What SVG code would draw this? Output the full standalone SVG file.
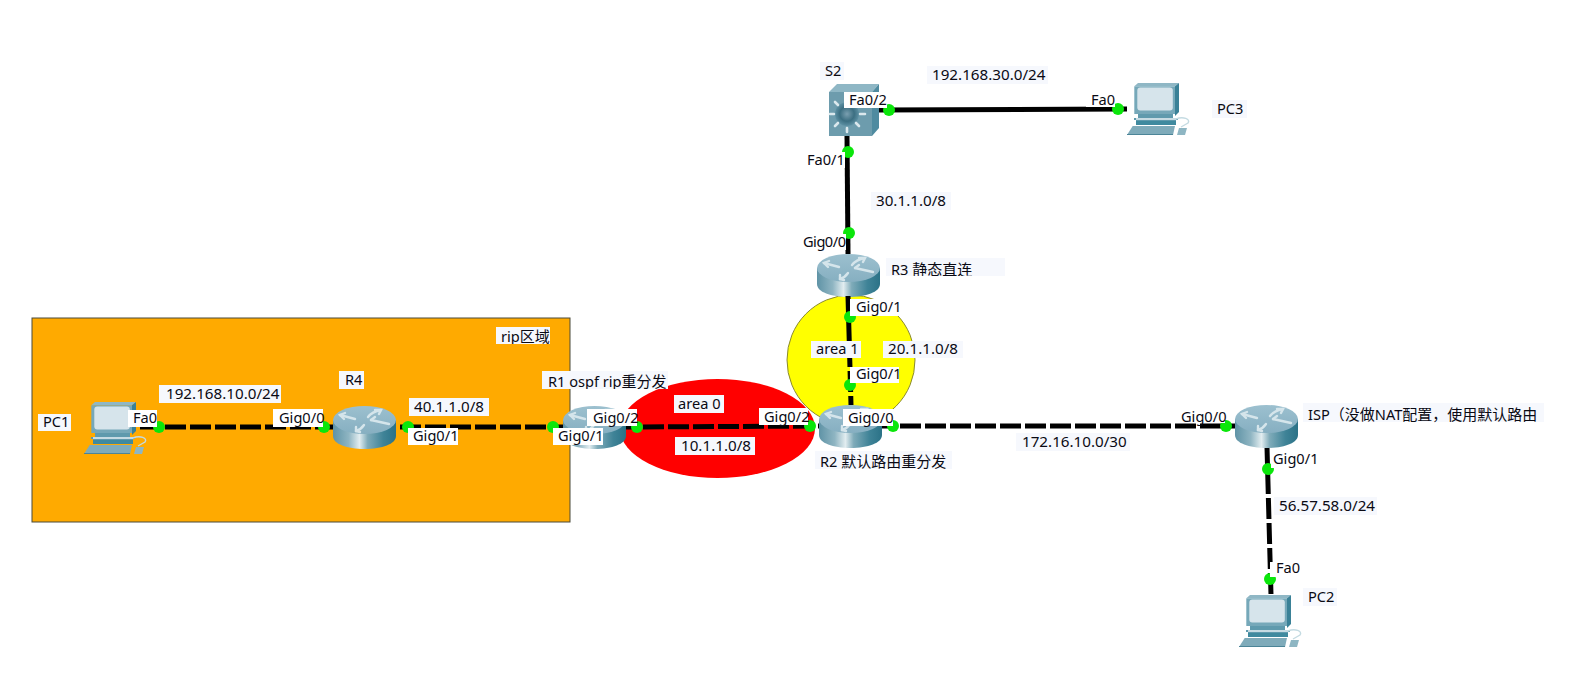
<svg xmlns="http://www.w3.org/2000/svg" width="1576" height="686" viewBox="0 0 1576 686">
<style>
text{font-family:"Noto Sans","Noto Sans CJK SC",sans-serif;font-size:14.6px;fill:#0a0a14}
.ip{font-size:15.2px}
.b{fill:#f6f8fd}.w{fill:#fff}
.solid{stroke:#000;stroke-width:5;fill:none}
.dash{stroke:#000;stroke-width:5;fill:none;stroke-dasharray:21 4}
.dot{fill:#0be60b}
</style>
<defs>
<linearGradient id="rb" x1="0" x2="1" y1="0" y2="0"><stop offset="0" stop-color="#5f93a6"/><stop offset=".25" stop-color="#8fb5c2"/><stop offset=".42" stop-color="#e2edf0"/><stop offset=".55" stop-color="#7fabb9"/><stop offset=".8" stop-color="#3f8397"/><stop offset="1" stop-color="#2b7287"/></linearGradient>
<linearGradient id="rt" x1="0" x2="0" y1="0" y2="1"><stop offset="0" stop-color="#9cc0cf"/><stop offset="1" stop-color="#86afc1"/></linearGradient>
<radialGradient id="hub"><stop offset="0" stop-color="#7a9fb0"/><stop offset=".6" stop-color="#3c6f82"/><stop offset="1" stop-color="#5d90a3"/></radialGradient>
<clipPath id="c1"><rect x="496" y="327" width="54" height="17"/></clipPath>
<clipPath id="c2"><rect x="542" y="371" width="126" height="18"/></clipPath>
<clipPath id="c3"><rect x="815" y="451" width="137" height="18"/></clipPath>
<clipPath id="c4"><rect x="886" y="258" width="119" height="18"/></clipPath>
<symbol id="router" viewBox="0 0 63 43" width="63" height="43" overflow="visible">
<path d="M0 14V30C0 38 14 43 31.500 43S63 38 63 30V14Z" fill="url(#rb)"/>
<ellipse cx="31.500" cy="14" rx="31.500" ry="14" fill="url(#rt)"/>
<g fill="none" stroke="#d5e5eb" stroke-width="2.400" stroke-linecap="round">
<path d="M7 9L22 13"/><path d="M11 13L7 9L12 7"/>
<path d="M35 11C38 7 43 5 48 4"/><path d="M42 4L48 4L46 8"/>
<path d="M38 14L56 18"/><path d="M38 14L42 11"/>
<path d="M31 19C29 22 26 24 23 25"/><path d="M23 21L23 25L27 26"/>
</g>
</symbol>
<symbol id="pc" viewBox="0 0 63 52" width="63" height="52" overflow="visible">
<path d="M7.300 3.300L11 0H52L48 3.300Z" fill="#8fb7c5"/>
<path d="M48 3.300L52 0V29L48 33Z" fill="#3a8197"/>
<rect x="7.300" y="3.300" width="40.700" height="27.700" fill="#76a8b9"/>
<rect x="10.300" y="4.500" width="35.500" height="23" rx="3" fill="#d6e4eb"/>
<path d="M11 31H46V35H51V37H49V42H9V37H7V35H11Z" fill="#5f9aad"/>
<path d="M9 35H49V37H9Z" fill="#c6dbe3"/>
<path d="M9 38H49V42H9Z" fill="#3f8a9f"/>
<path d="M5.700 43H48L46 52H0Z" fill="#7fabba"/>
<path d="M0 51H46V52H0Z" fill="#4c8598"/>
<path d="M49 36C56 33 64 36 61 40L54 44" fill="none" stroke="#c4dbe2" stroke-width="1.400"/>
<path d="M52 45H60L58 52H50Z" fill="#8eb6c3"/>
</symbol>
<symbol id="switch" viewBox="0 0 50 52" width="50" height="52" overflow="visible">
<path d="M0 8L8 0H50L43 8Z" fill="#8fb7c5"/>
<path d="M43 8L50 0V44L43 52Z" fill="#4f8ba0"/>
<rect y="8" width="43" height="44" fill="#6d9cad"/>
<circle cx="18" cy="30" r="12" fill="url(#hub)"/>
<g stroke="#dbe8ed" stroke-width="2.600" stroke-linecap="round"><path d="M18 13V16M18 44V48M1 30H5M31 30H36M6 18L9 21M30 18L27 21M6 42L9 39M30 42L27 39"/></g>
</symbol>
</defs>

<rect width="1576" height="686" fill="#fff"/>

<g id="rip-area"><rect x="32" y="318" width="538" height="204" fill="#ffaa00" stroke="#4a4a3a" stroke-width="1"/></g>
<g id="area-1"><ellipse cx="851" cy="360" rx="64" ry="65" fill="#ffff00" stroke="#8a8a30" stroke-width="1"/></g>
<g id="area-0"><ellipse cx="717.500" cy="428.500" rx="97.500" ry="49.500" fill="#ff0000"/></g>

<g id="PC1"><use href="#pc" x="84" y="402"/><rect class="b" x="38" y="414" width="33" height="17"/><text x="43" y="427">PC1</text></g>
<g id="R4"><use href="#router" x="333" y="406"/><rect class="b" x="339" y="371" width="25" height="18"/><text x="345" y="385">R4</text></g>
<g id="R1"><use href="#router" x="563" y="406"/><rect class="b" x="542" y="371" width="126" height="18"/><text x="548" y="387" clip-path="url(#c2)">R1 ospf rip<tspan font-size="15">重分发</tspan></text></g>
<g id="R2"><use href="#router" x="819" y="405"/><rect class="b" x="815" y="451" width="137" height="18"/><text x="820" y="467" clip-path="url(#c3)">R2 <tspan font-size="15">默认路由重分发</tspan></text></g>
<g id="R3"><use href="#router" x="817" y="254"/><rect class="b" x="886" y="258" width="119" height="18"/><text x="891" y="275" clip-path="url(#c4)">R3 <tspan font-size="15">静态直连</tspan></text></g>
<g id="ISP"><use href="#router" x="1235" y="405"/><rect class="b" x="1303" y="403" width="241" height="19"/><text x="1308" y="420">ISP<tspan font-size="15">（没做</tspan>NAT<tspan font-size="15">配置，使用默认路由</tspan></text></g>
<g id="S2"><use href="#switch" x="829" y="84"/><rect class="b" x="820" y="62" width="24" height="18"/><text x="825" y="76">S2</text></g>
<g id="PC3"><use href="#pc" x="1127" y="83"/><rect class="b" x="1212" y="100" width="35" height="18"/><text x="1217" y="114">PC3</text></g>
<g id="PC2"><use href="#pc" x="1239" y="595"/><rect class="b" x="1303" y="588" width="34" height="18"/><text x="1308" y="602">PC2</text></g>

<g id="connectors">
<path class="dash" d="M140 427H333"/>
<path class="dash" stroke-dashoffset="21" d="M396 427H563"/>
<path class="dash" stroke-dashoffset="8" d="M626 427L819 426"/>
<path class="dash" stroke-dashoffset="7" d="M882 426H1235"/>
<path class="dash" d="M848 296L851 405"/>
<path class="dash" stroke-dashoffset="24" d="M1267 447L1271 595"/>
<path class="solid" d="M847 136L848 254"/>
<path class="solid" d="M879 110L1127 109"/>
<g>
<circle class="dot" cx="159" cy="427" r="6"/><circle class="dot" cx="324" cy="427" r="6"/>
<circle class="dot" cx="408" cy="427" r="6"/><circle class="dot" cx="553" cy="427" r="6"/>
<circle class="dot" cx="637" cy="427" r="6"/><circle class="dot" cx="810" cy="426" r="6"/>
<circle class="dot" cx="893" cy="426" r="6"/><circle class="dot" cx="1226" cy="426" r="6"/>
<circle class="dot" cx="1268" cy="469" r="6"/><circle class="dot" cx="1270" cy="579" r="6"/>
<circle class="dot" cx="850" cy="317" r="6"/><circle class="dot" cx="850" cy="385" r="6"/>
<circle class="dot" cx="848" cy="152" r="6"/><circle class="dot" cx="849" cy="233" r="6"/>
<circle class="dot" cx="889" cy="110" r="6"/><circle class="dot" cx="1118" cy="109" r="6"/>
</g>
<g id="interface-labels">
<rect class="w" x="128" y="410" width="29" height="17"/><text x="133" y="423">Fa0</text>
<rect class="w" x="273" y="409" width="50" height="18"/><text x="279" y="423">Gig0/0</text>
<rect class="w" x="408" y="428" width="50" height="17"/><text x="413" y="441">Gig0/1</text>
<rect class="w" x="553" y="428" width="50" height="17"/><text x="558" y="441">Gig0/1</text>
<rect class="w" x="587" y="409" width="50" height="17"/><text x="593" y="423">Gig0/2</text>
<rect class="w" x="759" y="408" width="49" height="17"/><text x="764" y="422">Gig0/2</text>
<rect class="w" x="843" y="409" width="50" height="17"/><text x="848" y="423">Gig0/0</text>
<rect class="w" x="850" y="299" width="49" height="17"/><text x="856" y="312">Gig0/1</text>
<rect class="w" x="850" y="367" width="49" height="16"/><text x="856" y="379">Gig0/1</text>
<rect class="w" x="844" y="92" width="43" height="16"/><text x="849" y="105">Fa0/2</text>
<rect class="w" x="1086" y="92" width="29" height="15"/><text x="1091" y="105">Fa0</text>
<rect class="w" x="807" y="152" width="38" height="16"/><text x="807" y="165">Fa0/1</text>
<rect class="w" x="803" y="234" width="43" height="16"/><text x="803" y="247" textLength="43">Gig0/0</text>
<rect class="w" x="1175" y="410" width="50" height="13"/><text x="1181" y="422">Gig0/0</text>
<rect class="w" x="1271" y="452" width="46" height="16"/><text x="1273" y="464">Gig0/1</text>
<rect class="w" x="1270" y="562" width="28" height="15"/><text x="1276" y="573">Fa0</text>
</g>
<g id="link-labels">
<rect class="b" x="159" y="385" width="122" height="18"/><text class="ip" x="166" y="399">192.168.10.0/24</text>
<rect class="b" x="409" y="398" width="80" height="18"/><text class="ip" x="414" y="412">40.1.1.0/8</text>
<rect class="b" x="675" y="437" width="80" height="18"/><text class="ip" x="681" y="451">10.1.1.0/8</text>
<rect class="b" x="883" y="341" width="80" height="17"/><text class="ip" x="888" y="354">20.1.1.0/8</text>
<rect class="b" x="871" y="192" width="80" height="18"/><text class="ip" x="876" y="206">30.1.1.0/8</text>
<rect class="b" x="927" y="66" width="121" height="18"/><text class="ip" x="932" y="80">192.168.30.0/24</text>
<rect class="b" x="1016" y="433" width="114" height="18"/><text class="ip" x="1022" y="447">172.16.10.0/30</text>
<rect class="b" x="1274" y="497" width="103" height="18"/><text class="ip" x="1279" y="511">56.57.58.0/24</text>
</g>
</g>
<g id="area-labels">
<rect class="b" x="496" y="327" width="54" height="17"/><text x="501" y="342" clip-path="url(#c1)">rip<tspan font-size="15">区域</tspan></text>
<rect class="b" x="674" y="395" width="50" height="18"/><text x="678" y="409">area 0</text>
<rect class="b" x="811" y="341" width="50" height="17"/><text x="816" y="354">area 1</text>
</g>
</svg>
